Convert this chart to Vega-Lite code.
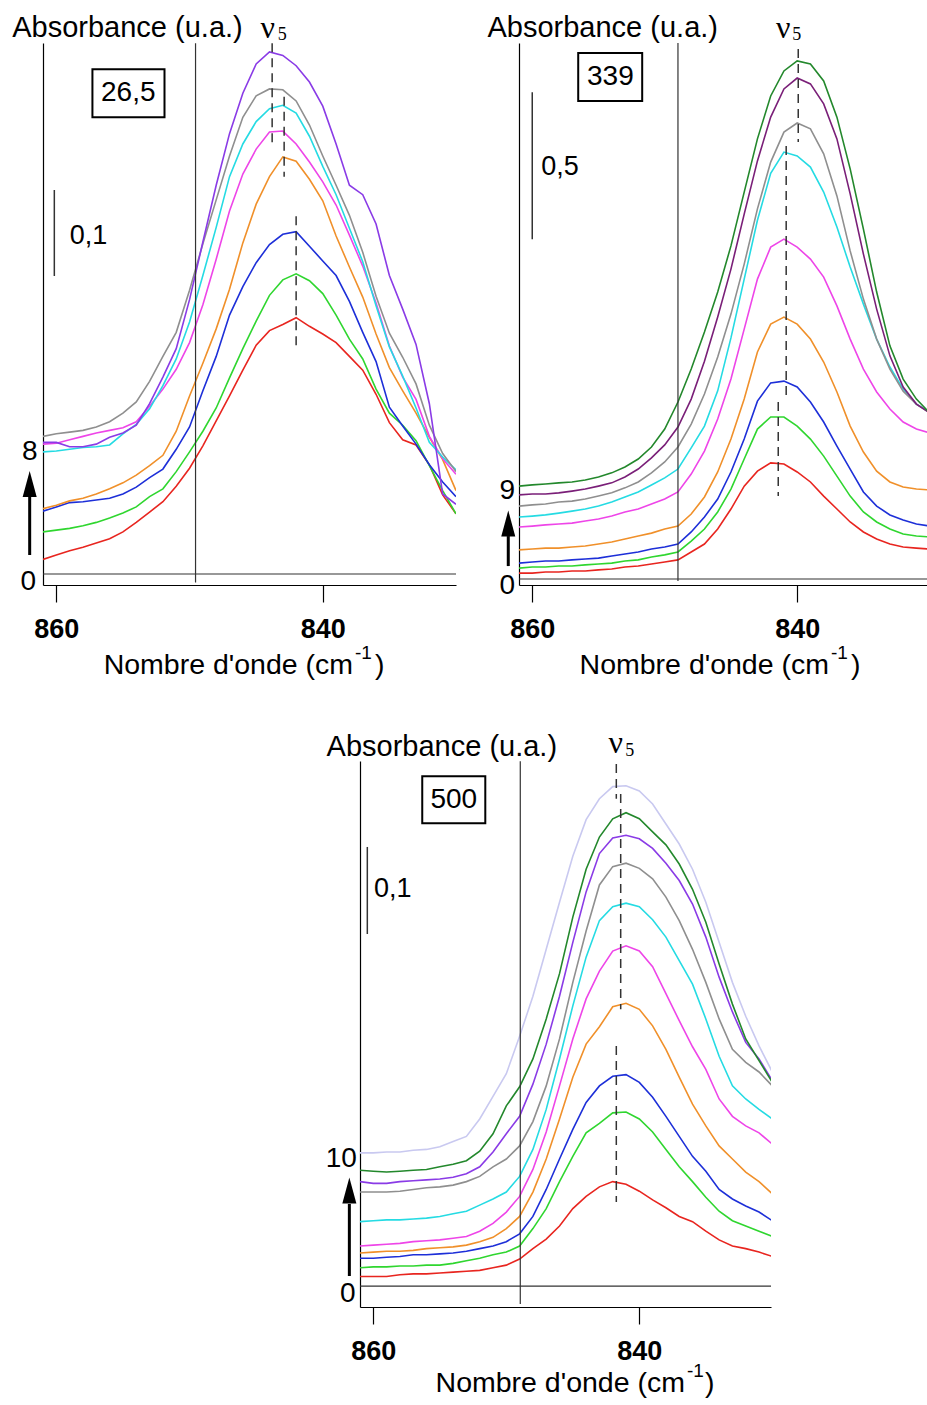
{
"$schema": "https://vega.github.io/schema/vega-lite/v6.json",
"padding": {"left": 12, "top": 12, "right": 0, "bottom": 0},
"background": "white",
"config": {"view": {"stroke": null}, "font": "Liberation Sans"},
"bounds": "flush",
"spacing": 718,
"resolve": {"scale": {"x": "independent", "y": "independent"}},
"datasets": {
"tl": [
{"w":861,"red":0.017,"green":0.049,"blue":0.073,"orange":0.076,"magenta":0.151,"cyan":0.142,"gray":0.160,"violet":0.153},
{"w":860,"red":0.022,"green":0.051,"blue":0.078,"orange":0.080,"magenta":0.152,"cyan":0.143,"gray":0.163,"violet":0.153},
{"w":859,"red":0.027,"green":0.053,"blue":0.083,"orange":0.085,"magenta":0.156,"cyan":0.145,"gray":0.165,"violet":0.148},
{"w":858,"red":0.031,"green":0.056,"blue":0.084,"orange":0.088,"magenta":0.160,"cyan":0.147,"gray":0.167,"violet":0.148},
{"w":857,"red":0.036,"green":0.060,"blue":0.086,"orange":0.093,"magenta":0.164,"cyan":0.148,"gray":0.171,"violet":0.151},
{"w":856,"red":0.041,"green":0.065,"blue":0.088,"orange":0.099,"magenta":0.167,"cyan":0.150,"gray":0.177,"violet":0.159},
{"w":855,"red":0.049,"green":0.071,"blue":0.093,"orange":0.106,"magenta":0.170,"cyan":0.163,"gray":0.187,"violet":0.164},
{"w":854,"red":0.060,"green":0.078,"blue":0.101,"orange":0.115,"magenta":0.177,"cyan":0.174,"gray":0.200,"violet":0.173},
{"w":853,"red":0.072,"green":0.090,"blue":0.112,"orange":0.126,"magenta":0.195,"cyan":0.192,"gray":0.224,"violet":0.198},
{"w":852,"red":0.084,"green":0.099,"blue":0.122,"orange":0.138,"magenta":0.215,"cyan":0.219,"gray":0.253,"violet":0.229},
{"w":851,"red":0.102,"green":0.119,"blue":0.145,"orange":0.166,"magenta":0.238,"cyan":0.250,"gray":0.281,"violet":0.262},
{"w":850,"red":0.123,"green":0.142,"blue":0.171,"orange":0.207,"magenta":0.269,"cyan":0.293,"gray":0.330,"violet":0.319},
{"w":849,"red":0.149,"green":0.166,"blue":0.213,"orange":0.245,"magenta":0.313,"cyan":0.347,"gray":0.384,"violet":0.386},
{"w":848,"red":0.178,"green":0.193,"blue":0.253,"orange":0.285,"magenta":0.366,"cyan":0.403,"gray":0.435,"violet":0.452},
{"w":847,"red":0.207,"green":0.228,"blue":0.301,"orange":0.331,"magenta":0.422,"cyan":0.462,"gray":0.486,"violet":0.512},
{"w":846,"red":0.237,"green":0.262,"blue":0.334,"orange":0.385,"magenta":0.465,"cyan":0.500,"gray":0.531,"violet":0.559},
{"w":845,"red":0.266,"green":0.294,"blue":0.362,"orange":0.430,"magenta":0.494,"cyan":0.526,"gray":0.556,"violet":0.593},
{"w":844,"red":0.283,"green":0.324,"blue":0.383,"orange":0.462,"magenta":0.514,"cyan":0.541,"gray":0.564,"violet":0.607},
{"w":843,"red":0.290,"green":0.342,"blue":0.395,"orange":0.485,"magenta":0.515,"cyan":0.545,"gray":0.563,"violet":0.603},
{"w":842,"red":0.298,"green":0.349,"blue":0.398,"orange":0.480,"magenta":0.500,"cyan":0.536,"gray":0.550,"violet":0.591},
{"w":841,"red":0.288,"green":0.341,"blue":0.381,"orange":0.459,"magenta":0.479,"cyan":0.509,"gray":0.522,"violet":0.572},
{"w":840,"red":0.279,"green":0.326,"blue":0.364,"orange":0.434,"magenta":0.456,"cyan":0.474,"gray":0.486,"violet":0.544},
{"w":839,"red":0.269,"green":0.301,"blue":0.347,"orange":0.393,"magenta":0.429,"cyan":0.441,"gray":0.452,"violet":0.500},
{"w":838,"red":0.253,"green":0.273,"blue":0.317,"orange":0.357,"magenta":0.394,"cyan":0.402,"gray":0.417,"violet":0.452},
{"w":837,"red":0.237,"green":0.250,"blue":0.281,"orange":0.322,"magenta":0.358,"cyan":0.363,"gray":0.374,"violet":0.441},
{"w":836,"red":0.209,"green":0.215,"blue":0.247,"orange":0.279,"magenta":0.315,"cyan":0.312,"gray":0.323,"violet":0.407},
{"w":835,"red":0.176,"green":0.187,"blue":0.194,"orange":0.240,"magenta":0.265,"cyan":0.264,"gray":0.280,"violet":0.347},
{"w":834,"red":0.156,"green":0.173,"blue":0.172,"orange":0.213,"magenta":0.229,"cyan":0.230,"gray":0.252,"violet":0.308},
{"w":833,"red":0.150,"green":0.155,"blue":0.151,"orange":0.187,"magenta":0.203,"cyan":0.193,"gray":0.221,"violet":0.267},
{"w":832,"red":0.127,"green":0.126,"blue":0.127,"orange":0.159,"magenta":0.160,"cyan":0.153,"gray":0.173,"violet":0.198},
{"w":831,"red":0.092,"green":0.097,"blue":0.107,"orange":0.133,"magenta":0.134,"cyan":0.136,"gray":0.140,"violet":0.093},
{"w":830,"red":0.070,"green":0.070,"blue":0.090,"orange":0.097,"magenta":0.116,"cyan":0.121,"gray":0.119,"violet":0.081}
],
"tr": [
{"w":861,"red":0.020,"green":0.037,"blue":0.054,"orange":0.099,"magenta":0.177,"cyan":0.211,"gray":0.248,"purple":0.286,"dkgreen":0.316},
{"w":860,"red":0.020,"green":0.041,"blue":0.058,"orange":0.102,"magenta":0.180,"cyan":0.214,"gray":0.252,"purple":0.289,"dkgreen":0.320},
{"w":859,"red":0.024,"green":0.041,"blue":0.061,"orange":0.105,"magenta":0.184,"cyan":0.218,"gray":0.255,"purple":0.289,"dkgreen":0.323},
{"w":858,"red":0.024,"green":0.044,"blue":0.061,"orange":0.105,"magenta":0.187,"cyan":0.224,"gray":0.262,"purple":0.293,"dkgreen":0.327},
{"w":857,"red":0.027,"green":0.044,"blue":0.065,"orange":0.109,"magenta":0.190,"cyan":0.231,"gray":0.265,"purple":0.299,"dkgreen":0.330},
{"w":856,"red":0.027,"green":0.048,"blue":0.068,"orange":0.112,"magenta":0.197,"cyan":0.238,"gray":0.272,"purple":0.306,"dkgreen":0.337},
{"w":855,"red":0.031,"green":0.051,"blue":0.071,"orange":0.119,"magenta":0.204,"cyan":0.248,"gray":0.282,"purple":0.316,"dkgreen":0.347},
{"w":854,"red":0.034,"green":0.054,"blue":0.078,"orange":0.126,"magenta":0.214,"cyan":0.262,"gray":0.293,"purple":0.327,"dkgreen":0.361},
{"w":853,"red":0.041,"green":0.061,"blue":0.085,"orange":0.136,"magenta":0.228,"cyan":0.279,"gray":0.310,"purple":0.347,"dkgreen":0.381},
{"w":852,"red":0.044,"green":0.065,"blue":0.092,"orange":0.146,"magenta":0.238,"cyan":0.296,"gray":0.330,"purple":0.374,"dkgreen":0.408},
{"w":851,"red":0.051,"green":0.075,"blue":0.102,"orange":0.156,"magenta":0.255,"cyan":0.320,"gray":0.361,"purple":0.412,"dkgreen":0.449},
{"w":850,"red":0.058,"green":0.082,"blue":0.109,"orange":0.170,"magenta":0.272,"cyan":0.344,"gray":0.398,"purple":0.456,"dkgreen":0.510},
{"w":849,"red":0.065,"green":0.092,"blue":0.119,"orange":0.180,"magenta":0.296,"cyan":0.374,"gray":0.449,"purple":0.517,"dkgreen":0.602},
{"w":848,"red":0.092,"green":0.129,"blue":0.160,"orange":0.221,"magenta":0.357,"cyan":0.446,"gray":0.527,"purple":0.612,"dkgreen":0.714},
{"w":847,"red":0.119,"green":0.170,"blue":0.211,"orange":0.279,"magenta":0.435,"cyan":0.520,"gray":0.629,"purple":0.741,"dkgreen":0.840},
{"w":846,"red":0.170,"green":0.228,"blue":0.272,"orange":0.364,"magenta":0.544,"cyan":0.640,"gray":0.755,"purple":0.891,"dkgreen":0.976},
{"w":845,"red":0.238,"green":0.306,"blue":0.364,"orange":0.476,"magenta":0.680,"cyan":0.820,"gray":0.901,"purple":1.054,"dkgreen":1.133},
{"w":844,"red":0.316,"green":0.408,"blue":0.476,"orange":0.612,"magenta":0.850,"cyan":1.020,"gray":1.071,"purple":1.241,"dkgreen":1.316},
{"w":843,"red":0.367,"green":0.510,"blue":0.605,"orange":0.772,"magenta":1.020,"cyan":1.220,"gray":1.259,"purple":1.422,"dkgreen":1.497},
{"w":842,"red":0.395,"green":0.551,"blue":0.667,"orange":0.867,"magenta":1.129,"cyan":1.380,"gray":1.418,"purple":1.571,"dkgreen":1.643},
{"w":841,"red":0.391,"green":0.551,"blue":0.673,"orange":0.891,"magenta":1.156,"cyan":1.452,"gray":1.520,"purple":1.667,"dkgreen":1.728},
{"w":840,"red":0.364,"green":0.520,"blue":0.653,"orange":0.867,"magenta":1.129,"cyan":1.439,"gray":1.551,"purple":1.704,"dkgreen":1.762},
{"w":839,"red":0.330,"green":0.476,"blue":0.602,"orange":0.816,"magenta":1.088,"cyan":1.401,"gray":1.531,"purple":1.684,"dkgreen":1.752},
{"w":838,"red":0.282,"green":0.418,"blue":0.534,"orange":0.738,"magenta":1.027,"cyan":1.316,"gray":1.446,"purple":1.616,"dkgreen":1.694},
{"w":837,"red":0.238,"green":0.350,"blue":0.452,"orange":0.636,"magenta":0.929,"cyan":1.197,"gray":1.303,"purple":1.497,"dkgreen":1.571},
{"w":836,"red":0.194,"green":0.282,"blue":0.374,"orange":0.520,"magenta":0.816,"cyan":1.061,"gray":1.116,"purple":1.310,"dkgreen":1.395},
{"w":835,"red":0.160,"green":0.228,"blue":0.296,"orange":0.432,"magenta":0.714,"cyan":0.935,"gray":0.952,"purple":1.105,"dkgreen":1.190},
{"w":834,"red":0.136,"green":0.194,"blue":0.248,"orange":0.367,"magenta":0.636,"cyan":0.816,"gray":0.816,"purple":0.918,"dkgreen":0.976},
{"w":833,"red":0.119,"green":0.170,"blue":0.218,"orange":0.330,"magenta":0.578,"cyan":0.721,"gray":0.714,"purple":0.759,"dkgreen":0.793},
{"w":832,"red":0.109,"green":0.153,"blue":0.201,"orange":0.313,"magenta":0.534,"cyan":0.646,"gray":0.639,"purple":0.653,"dkgreen":0.680},
{"w":831,"red":0.105,"green":0.146,"blue":0.187,"orange":0.306,"magenta":0.510,"cyan":0.595,"gray":0.595,"purple":0.595,"dkgreen":0.612},
{"w":830,"red":0.102,"green":0.143,"blue":0.180,"orange":0.303,"magenta":0.497,"cyan":0.568,"gray":0.565,"purple":0.565,"dkgreen":0.565}
],
"bot": [
{"w":861,"lavender":0.153,"dkgreen":0.133,"violet":0.120,"gray":0.108,"cyan":0.074,"magenta":0.046,"orange":0.038,"blue":0.032,"green":0.021,"red":0.011},
{"w":860,"lavender":0.153,"dkgreen":0.132,"violet":0.118,"gray":0.108,"cyan":0.075,"magenta":0.047,"orange":0.039,"blue":0.032,"green":0.022,"red":0.011},
{"w":859,"lavender":0.154,"dkgreen":0.131,"violet":0.118,"gray":0.108,"cyan":0.076,"magenta":0.048,"orange":0.040,"blue":0.033,"green":0.022,"red":0.011},
{"w":858,"lavender":0.154,"dkgreen":0.132,"violet":0.120,"gray":0.109,"cyan":0.076,"magenta":0.049,"orange":0.040,"blue":0.034,"green":0.023,"red":0.013},
{"w":857,"lavender":0.156,"dkgreen":0.133,"violet":0.121,"gray":0.111,"cyan":0.077,"magenta":0.051,"orange":0.041,"blue":0.036,"green":0.023,"red":0.014},
{"w":856,"lavender":0.157,"dkgreen":0.134,"violet":0.122,"gray":0.113,"cyan":0.078,"magenta":0.052,"orange":0.043,"blue":0.036,"green":0.024,"red":0.014},
{"w":855,"lavender":0.160,"dkgreen":0.137,"violet":0.123,"gray":0.114,"cyan":0.080,"magenta":0.053,"orange":0.044,"blue":0.037,"green":0.024,"red":0.015},
{"w":854,"lavender":0.166,"dkgreen":0.140,"violet":0.125,"gray":0.116,"cyan":0.083,"magenta":0.055,"orange":0.045,"blue":0.038,"green":0.026,"red":0.016},
{"w":853,"lavender":0.172,"dkgreen":0.144,"violet":0.129,"gray":0.120,"cyan":0.086,"magenta":0.057,"orange":0.047,"blue":0.040,"green":0.029,"red":0.017},
{"w":852,"lavender":0.192,"dkgreen":0.155,"violet":0.137,"gray":0.126,"cyan":0.093,"magenta":0.063,"orange":0.051,"blue":0.043,"green":0.032,"red":0.018},
{"w":851,"lavender":0.218,"dkgreen":0.175,"violet":0.154,"gray":0.137,"cyan":0.100,"magenta":0.072,"orange":0.056,"blue":0.046,"green":0.036,"red":0.021},
{"w":850,"lavender":0.244,"dkgreen":0.207,"violet":0.175,"gray":0.146,"cyan":0.108,"magenta":0.085,"orange":0.066,"blue":0.051,"green":0.039,"red":0.024},
{"w":849,"lavender":0.287,"dkgreen":0.229,"violet":0.195,"gray":0.161,"cyan":0.126,"magenta":0.103,"orange":0.080,"blue":0.060,"green":0.046,"red":0.031},
{"w":848,"lavender":0.333,"dkgreen":0.261,"violet":0.232,"gray":0.189,"cyan":0.157,"magenta":0.134,"orange":0.108,"blue":0.080,"green":0.066,"red":0.043},
{"w":847,"lavender":0.387,"dkgreen":0.307,"violet":0.278,"gray":0.230,"cyan":0.203,"magenta":0.177,"orange":0.146,"blue":0.111,"green":0.089,"red":0.054},
{"w":846,"lavender":0.441,"dkgreen":0.359,"violet":0.333,"gray":0.284,"cyan":0.261,"magenta":0.230,"orange":0.192,"blue":0.146,"green":0.120,"red":0.069},
{"w":845,"lavender":0.494,"dkgreen":0.424,"violet":0.395,"gray":0.349,"cyan":0.322,"magenta":0.284,"orange":0.240,"blue":0.180,"green":0.149,"red":0.089},
{"w":844,"lavender":0.536,"dkgreen":0.479,"violet":0.453,"gray":0.408,"cyan":0.378,"magenta":0.330,"orange":0.278,"blue":0.211,"green":0.176,"red":0.103},
{"w":843,"lavender":0.560,"dkgreen":0.516,"violet":0.497,"gray":0.461,"cyan":0.420,"magenta":0.362,"orange":0.298,"blue":0.230,"green":0.187,"red":0.114},
{"w":842,"lavender":0.574,"dkgreen":0.537,"violet":0.515,"gray":0.482,"cyan":0.436,"magenta":0.385,"orange":0.321,"blue":0.241,"green":0.199,"red":0.120},
{"w":841,"lavender":0.575,"dkgreen":0.544,"violet":0.518,"gray":0.486,"cyan":0.440,"magenta":0.391,"orange":0.325,"blue":0.243,"green":0.200,"red":0.117},
{"w":840,"lavender":0.569,"dkgreen":0.537,"violet":0.514,"gray":0.480,"cyan":0.436,"magenta":0.385,"orange":0.318,"blue":0.234,"green":0.192,"red":0.109},
{"w":839,"lavender":0.554,"dkgreen":0.522,"violet":0.503,"gray":0.468,"cyan":0.421,"magenta":0.367,"orange":0.299,"blue":0.217,"green":0.177,"red":0.099},
{"w":838,"lavender":0.531,"dkgreen":0.507,"violet":0.486,"gray":0.447,"cyan":0.401,"magenta":0.336,"orange":0.272,"blue":0.195,"green":0.157,"red":0.090},
{"w":837,"lavender":0.508,"dkgreen":0.485,"violet":0.466,"gray":0.420,"cyan":0.374,"magenta":0.305,"orange":0.240,"blue":0.172,"green":0.137,"red":0.080},
{"w":836,"lavender":0.479,"dkgreen":0.456,"violet":0.439,"gray":0.387,"cyan":0.347,"magenta":0.275,"orange":0.209,"blue":0.149,"green":0.120,"red":0.074},
{"w":835,"lavender":0.441,"dkgreen":0.418,"violet":0.401,"gray":0.349,"cyan":0.307,"magenta":0.249,"orange":0.184,"blue":0.132,"green":0.102,"red":0.063},
{"w":834,"lavender":0.395,"dkgreen":0.370,"violet":0.355,"gray":0.307,"cyan":0.264,"magenta":0.215,"orange":0.161,"blue":0.111,"green":0.086,"red":0.053},
{"w":833,"lavender":0.349,"dkgreen":0.324,"violet":0.315,"gray":0.272,"cyan":0.230,"magenta":0.195,"orange":0.146,"blue":0.100,"green":0.075,"red":0.046},
{"w":832,"lavender":0.310,"dkgreen":0.284,"violet":0.280,"gray":0.257,"cyan":0.215,"magenta":0.184,"orange":0.131,"blue":0.092,"green":0.069,"red":0.043},
{"w":831,"lavender":0.276,"dkgreen":0.259,"violet":0.261,"gray":0.246,"cyan":0.203,"magenta":0.176,"orange":0.120,"blue":0.085,"green":0.063,"red":0.039},
{"w":830,"lavender":0.246,"dkgreen":0.234,"violet":0.236,"gray":0.230,"cyan":0.192,"magenta":0.163,"orange":0.106,"blue":0.075,"green":0.057,"red":0.034}
]
},
"vconcat": [
{
"hconcat": [
{
"width": 413, "height": 542,
"encoding": {
"x": {"field": "w", "type": "quantitative", "scale": {"domain": [830, 861], "reverse": true, "nice": false, "zero": false},
"axis": {"values": [860, 840], "tickSize": 17, "tickColor": "black", "tickWidth": 1.2, "domainColor": "black", "domainWidth": 1.2, "labelFont": "Liberation Sans", "labelFontWeight": "bold", "labelFontSize": 27, "labelColor": "black", "labelPadding": 14, "labelFlush": false, "grid": false, "title": null}},
"y": {"field": "a", "type": "quantitative", "scale": {"domain": [-0.0128, 0.6174], "nice": false, "zero": false},
"axis": {"domainColor": "black", "domainWidth": 1.2, "ticks": false, "labels": false, "grid": false, "title": null}}
},
"layer": [
{"data": {"name": "tl"}, "transform": [{"fold": ["red", "green", "blue", "orange", "magenta", "cyan", "gray", "violet"], "as": ["s", "a"]}],
"mark": {"type": "line", "strokeWidth": 1.6, "clip": true},
"encoding": {"color": {"field": "s", "type": "nominal", "legend": null, "scale": {"domain": ["red", "green", "blue", "orange", "magenta", "cyan", "gray", "violet", "purple", "dkgreen", "lavender"], "range": ["#e8251f", "#2fd62f", "#1d2fd8", "#f0902a", "#ee45e8", "#25dbe3", "#8f8f8f", "#8a3be6", "#7a1f78", "#23882c", "#c9c9f0"]}}}},
{"data": {"values": [{"w": 861, "w2": 830, "a": 0}]}, "mark": {"type": "rule", "color": "#333333", "strokeWidth": 1.2}, "encoding": {"x2": {"field": "w2"}}},
{"data": {"values": [{"w": 849.55, "a": 0.617, "a2": -0.010}]}, "mark": {"type": "rule", "color": "#333333", "strokeWidth": 1.2}, "encoding": {"y2": {"field": "a2"}}},
{"data": {"values": [{"w": 843.8, "a": 0.617, "a2": 0.500}, {"w": 842.9, "a": 0.555, "a2": 0.462}, {"w": 842.0, "a": 0.416, "a2": 0.262}]}, "mark": {"type": "rule", "color": "#333333", "strokeWidth": 1.5, "strokeDash": [9, 6]}, "encoding": {"y2": {"field": "a2"}}},
{"data": {"values": [{"w": 860.15, "a": 0.4465, "a2": 0.3465}]}, "mark": {"type": "rule", "color": "#333333", "strokeWidth": 1.5}, "encoding": {"y2": {"field": "a2"}}},
{"data": {"values": [{"w": 857.29, "w2": 851.88, "a": 0.587, "a2": 0.531}]}, "mark": {"type": "rect", "fill": "transparent", "stroke": "black", "strokeWidth": 2}, "encoding": {"x2": {"field": "w2"}, "y2": {"field": "a2"}}},
{"data": {"values": [{"w": 862.0, "a": 0.0221, "a2": 0.0895}]}, "mark": {"type": "rule", "color": "black", "strokeWidth": 3}, "encoding": {"y2": {"field": "a2"}}},
{"data": {"values": [{"w": 862.0, "a": 0.1047}]}, "mark": {"type": "point", "shape": "M-0.54,1L0,-1L0.54,1Z", "size": 676, "filled": true, "color": "black", "opacity": 1, "strokeWidth": 0}},
{"data": {"values": [{"w": 854.6, "a": 0.559, "t": "26,5"}, {"w": 862.1, "a": -0.0093, "t": "0"}, {"w": 862.0, "a": 0.142, "t": "8"}]}, "mark": {"type": "text", "fontSize": 28, "align": "center", "baseline": "middle", "color": "black"}, "encoding": {"text": {"field": "t", "type": "nominal"}}},
{"data": {"values": [{"w": 859.0, "a": 0.393, "t": "0,1"}]}, "mark": {"type": "text", "fontSize": 27, "align": "left", "baseline": "middle", "color": "black"}, "encoding": {"text": {"field": "t", "type": "nominal"}}},
{"data": {"values": [{"w": 854.66, "a": 0.624, "t": "Absorbance (u.a.)"}]}, "mark": {"type": "text", "fontSize": 29, "align": "center", "baseline": "alphabetic", "color": "black"}, "encoding": {"text": {"field": "t", "type": "nominal"}}},
{"data": {"values": [{"w": 844.14, "a": 0.623, "t": "ν"}]}, "mark": {"type": "text", "font": "Liberation Serif", "fontSize": 32, "align": "center", "baseline": "alphabetic", "color": "black"}, "encoding": {"text": {"field": "t", "type": "nominal"}}},
{"data": {"values": [{"w": 843.38, "a": 0.621, "t": "5"}]}, "mark": {"type": "text", "font": "Liberation Serif", "fontSize": 18, "align": "left", "baseline": "alphabetic", "color": "black"}, "encoding": {"text": {"field": "t", "type": "nominal"}}},
{"data": {"values": [{"w": 837.73, "a": -0.1163, "t": "Nombre d'onde (cm"}]}, "mark": {"type": "text", "fontSize": 28.5, "align": "right", "baseline": "alphabetic", "color": "black"}, "encoding": {"text": {"field": "t", "type": "nominal"}}},
{"data": {"values": [{"w": 837.58, "a": -0.0988, "t": "-1"}, {"w": 836.08, "a": -0.1163, "t": ")"}]}, "mark": {"type": "text", "fontSize": 19, "align": "left", "baseline": "alphabetic", "color": "black"}, "encoding": {"text": {"field": "t", "type": "nominal"}, "size": {"condition": {"test": "datum.t === ')'", "value": 28.5}, "value": 19}}}
]
},
{
"width": 408, "height": 542,
"encoding": {
"x": {"field": "w", "type": "quantitative", "scale": {"domain": [830.2, 861], "reverse": true, "nice": false, "zero": false},
"axis": {"values": [860, 840], "tickSize": 17, "tickColor": "black", "tickWidth": 1.2, "domainColor": "black", "domainWidth": 1.2, "labelFont": "Liberation Sans", "labelFontWeight": "bold", "labelFontSize": 27, "labelColor": "black", "labelPadding": 14, "labelFlush": false, "grid": false, "title": null}},
"y": {"field": "a", "type": "quantitative", "scale": {"domain": [-0.0204, 1.8231], "nice": false, "zero": false},
"axis": {"domainColor": "black", "domainWidth": 1.2, "ticks": false, "labels": false, "grid": false, "title": null}}
},
"layer": [
{"data": {"name": "tr"}, "transform": [{"fold": ["red", "green", "blue", "orange", "magenta", "cyan", "gray", "purple", "dkgreen"], "as": ["s", "a"]}],
"mark": {"type": "line", "strokeWidth": 1.6, "clip": true},
"encoding": {"color": {"field": "s", "type": "nominal", "legend": null, "scale": {"domain": ["red", "green", "blue", "orange", "magenta", "cyan", "gray", "violet", "purple", "dkgreen", "lavender"], "range": ["#e8251f", "#2fd62f", "#1d2fd8", "#f0902a", "#ee45e8", "#25dbe3", "#8f8f8f", "#8a3be6", "#7a1f78", "#23882c", "#c9c9f0"]}}}},
{"data": {"values": [{"w": 861, "w2": 830.2, "a": 0}]}, "mark": {"type": "rule", "color": "#333333", "strokeWidth": 1.2}, "encoding": {"x2": {"field": "w2"}}},
{"data": {"values": [{"w": 849.0, "a": 1.823, "a2": -0.007}]}, "mark": {"type": "rule", "color": "#333333", "strokeWidth": 1.2}, "encoding": {"y2": {"field": "a2"}}},
{"data": {"values": [{"w": 839.92, "a": 1.803, "a2": 1.486}, {"w": 840.83, "a": 1.473, "a2": 0.622}, {"w": 841.43, "a": 0.602, "a2": 0.282}]}, "mark": {"type": "rule", "color": "#333333", "strokeWidth": 1.5, "strokeDash": [9, 6]}, "encoding": {"y2": {"field": "a2"}}},
{"data": {"values": [{"w": 860.0, "a": 1.656, "a2": 1.156}]}, "mark": {"type": "rule", "color": "#333333", "strokeWidth": 1.5}, "encoding": {"y2": {"field": "a2"}}},
{"data": {"values": [{"w": 856.53, "w2": 851.70, "a": 1.789, "a2": 1.626}]}, "mark": {"type": "rect", "fill": "transparent", "stroke": "black", "strokeWidth": 2}, "encoding": {"x2": {"field": "w2"}, "y2": {"field": "a2"}}},
{"data": {"values": [{"w": 861.81, "a": 0.044, "a2": 0.146}]}, "mark": {"type": "rule", "color": "black", "strokeWidth": 3}, "encoding": {"y2": {"field": "a2"}}},
{"data": {"values": [{"w": 861.81, "a": 0.189}]}, "mark": {"type": "point", "shape": "M-0.54,1L0,-1L0.54,1Z", "size": 676, "filled": true, "color": "black", "opacity": 1, "strokeWidth": 0}},
{"data": {"values": [{"w": 854.1, "a": 1.707, "t": "339"}, {"w": 861.89, "a": -0.0238, "t": "0"}, {"w": 861.89, "a": 0.299, "t": "9"}]}, "mark": {"type": "text", "fontSize": 28, "align": "center", "baseline": "middle", "color": "black"}, "encoding": {"text": {"field": "t", "type": "nominal"}}},
{"data": {"values": [{"w": 859.32, "a": 1.401, "t": "0,5"}]}, "mark": {"type": "text", "fontSize": 27, "align": "left", "baseline": "middle", "color": "black"}, "encoding": {"text": {"field": "t", "type": "nominal"}}},
{"data": {"values": [{"w": 854.68, "a": 1.8435, "t": "Absorbance (u.a.)"}]}, "mark": {"type": "text", "fontSize": 29, "align": "center", "baseline": "alphabetic", "color": "black"}, "encoding": {"text": {"field": "t", "type": "nominal"}}},
{"data": {"values": [{"w": 841.06, "a": 1.840, "t": "ν"}]}, "mark": {"type": "text", "font": "Liberation Serif", "fontSize": 32, "align": "center", "baseline": "alphabetic", "color": "black"}, "encoding": {"text": {"field": "t", "type": "nominal"}}},
{"data": {"values": [{"w": 840.38, "a": 1.833, "t": "5"}]}, "mark": {"type": "text", "font": "Liberation Serif", "fontSize": 18, "align": "left", "baseline": "alphabetic", "color": "black"}, "encoding": {"text": {"field": "t", "type": "nominal"}}},
{"data": {"values": [{"w": 837.60, "a": -0.3231, "t": "Nombre d'onde (cm"}]}, "mark": {"type": "text", "fontSize": 28.5, "align": "right", "baseline": "alphabetic", "color": "black"}, "encoding": {"text": {"field": "t", "type": "nominal"}}},
{"data": {"values": [{"w": 837.45, "a": -0.2721, "t": "-1"}, {"w": 835.94, "a": -0.3231, "t": ")"}]}, "mark": {"type": "text", "fontSize": 19, "align": "left", "baseline": "alphabetic", "color": "black"}, "encoding": {"text": {"field": "t", "type": "nominal"}, "size": {"condition": {"test": "datum.t === ')'", "value": 28.5}, "value": 19}}}
]
}
],
"spacing": 63,
"bounds": "flush",
"resolve": {"scale": {"x": "independent", "y": "independent"}}
},
{
"hconcat": [
{"width": 297, "height": 10, "data": {"values": [{"t": ""}]}, "mark": {"type": "text"}, "encoding": {"text": {"field": "t", "type": "nominal"}}},
{
"width": 411, "height": 546,
"encoding": {
"x": {"field": "w", "type": "quantitative", "scale": {"domain": [830.1, 861], "reverse": true, "nice": false, "zero": false},
"axis": {"values": [860, 840], "tickSize": 17, "tickColor": "black", "tickWidth": 1.2, "domainColor": "black", "domainWidth": 1.2, "labelFont": "Liberation Sans", "labelFontWeight": "bold", "labelFontSize": 27, "labelColor": "black", "labelPadding": 14, "labelFlush": false, "grid": false, "title": null}},
"y": {"field": "a", "type": "quantitative", "scale": {"domain": [-0.0241, 0.6034], "nice": false, "zero": false},
"axis": {"domainColor": "black", "domainWidth": 1.2, "ticks": false, "labels": false, "grid": false, "title": null}}
},
"layer": [
{"data": {"name": "bot"}, "transform": [{"fold": ["red", "green", "blue", "orange", "magenta", "cyan", "gray", "violet", "dkgreen", "lavender"], "as": ["s", "a"]}],
"mark": {"type": "line", "strokeWidth": 1.6, "clip": true},
"encoding": {"color": {"field": "s", "type": "nominal", "legend": null, "scale": {"domain": ["red", "green", "blue", "orange", "magenta", "cyan", "gray", "violet", "purple", "dkgreen", "lavender"], "range": ["#e8251f", "#2fd62f", "#1d2fd8", "#f0902a", "#ee45e8", "#25dbe3", "#8f8f8f", "#8a3be6", "#7a1f78", "#23882c", "#c9c9f0"]}}}},
{"data": {"values": [{"w": 861, "w2": 830.1, "a": 0}]}, "mark": {"type": "rule", "color": "#333333", "strokeWidth": 1.2}, "encoding": {"x2": {"field": "w2"}}},
{"data": {"values": [{"w": 848.95, "a": 0.603, "a2": -0.0207}]}, "mark": {"type": "rule", "color": "#333333", "strokeWidth": 1.2}, "encoding": {"y2": {"field": "a2"}}},
{"data": {"values": [{"w": 841.73, "a": 0.600, "a2": 0.560}, {"w": 841.4, "a": 0.5655, "a2": 0.318}, {"w": 841.73, "a": 0.276, "a2": 0.0966}]}, "mark": {"type": "rule", "color": "#333333", "strokeWidth": 1.5, "strokeDash": [9, 6]}, "encoding": {"y2": {"field": "a2"}}},
{"data": {"values": [{"w": 860.45, "a": 0.5046, "a2": 0.4046}]}, "mark": {"type": "rule", "color": "#333333", "strokeWidth": 1.5}, "encoding": {"y2": {"field": "a2"}}},
{"data": {"values": [{"w": 856.32, "w2": 851.58, "a": 0.586, "a2": 0.532}]}, "mark": {"type": "rect", "fill": "transparent", "stroke": "black", "strokeWidth": 2}, "encoding": {"x2": {"field": "w2"}, "y2": {"field": "a2"}}},
{"data": {"values": [{"w": 861.8, "a": 0.0115, "a2": 0.0943}]}, "mark": {"type": "rule", "color": "black", "strokeWidth": 3}, "encoding": {"y2": {"field": "a2"}}},
{"data": {"values": [{"w": 861.8, "a": 0.1098}]}, "mark": {"type": "point", "shape": "M-0.54,1L0,-1L0.54,1Z", "size": 676, "filled": true, "color": "black", "opacity": 1, "strokeWidth": 0}},
{"data": {"values": [{"w": 853.95, "a": 0.559, "t": "500"}, {"w": 861.92, "a": -0.0092, "t": "0"}, {"w": 862.4, "a": 0.146, "t": "10"}]}, "mark": {"type": "text", "fontSize": 28, "align": "center", "baseline": "middle", "color": "black"}, "encoding": {"text": {"field": "t", "type": "nominal"}}},
{"data": {"values": [{"w": 859.95, "a": 0.456, "t": "0,1"}]}, "mark": {"type": "text", "fontSize": 27, "align": "left", "baseline": "middle", "color": "black"}, "encoding": {"text": {"field": "t", "type": "nominal"}}},
{"data": {"values": [{"w": 854.85, "a": 0.609, "t": "Absorbance (u.a.)"}]}, "mark": {"type": "text", "fontSize": 29, "align": "center", "baseline": "alphabetic", "color": "black"}, "encoding": {"text": {"field": "t", "type": "nominal"}}},
{"data": {"values": [{"w": 841.77, "a": 0.613, "t": "ν"}]}, "mark": {"type": "text", "font": "Liberation Serif", "fontSize": 32, "align": "center", "baseline": "alphabetic", "color": "black"}, "encoding": {"text": {"field": "t", "type": "nominal"}}},
{"data": {"values": [{"w": 841.05, "a": 0.609, "t": "5"}]}, "mark": {"type": "text", "font": "Liberation Serif", "fontSize": 18, "align": "left", "baseline": "alphabetic", "color": "black"}, "encoding": {"text": {"field": "t", "type": "nominal"}}},
{"data": {"values": [{"w": 836.57, "a": -0.1218, "t": "Nombre d'onde (cm"}]}, "mark": {"type": "text", "fontSize": 28.5, "align": "right", "baseline": "alphabetic", "color": "black"}, "encoding": {"text": {"field": "t", "type": "nominal"}}},
{"data": {"values": [{"w": 836.42, "a": -0.1046, "t": "-1"}, {"w": 835.06, "a": -0.1218, "t": ")"}]}, "mark": {"type": "text", "fontSize": 19, "align": "left", "baseline": "alphabetic", "color": "black"}, "encoding": {"text": {"field": "t", "type": "nominal"}, "size": {"condition": {"test": "datum.t === ')'", "value": 28.5}, "value": 19}}}
]
}
],
"spacing": 20,
"bounds": "flush",
"resolve": {"scale": {"x": "independent", "y": "independent"}}
}
]
}
